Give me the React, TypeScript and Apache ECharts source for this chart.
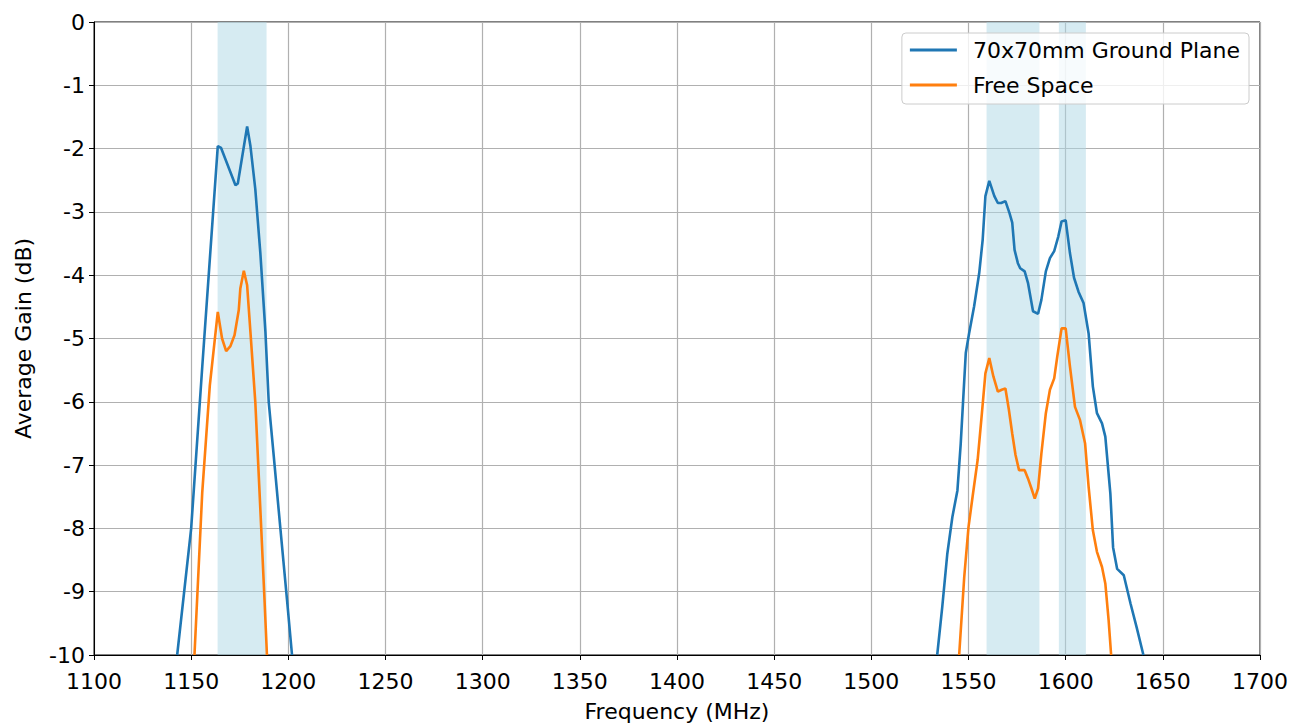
import React, { useEffect, useRef } from "react";
import * as echarts from "echarts";

// Left band (L5/E5a) and right band (L1/E1/B1/G1) samples
const groundFreqLow = [1142.8, 1150, 1155.7, 1163.7, 1165.4, 1172.8, 1174, 1178.8, 1180.5, 1183, 1185.6, 1188.2, 1189.9, 1192.5, 1195.9, 1199.3, 1201.9];
const groundGainLow = [-10, -8, -5.45, -1.96, -1.99, -2.58, -2.55, -1.65, -1.96, -2.64, -3.65, -4.89, -6.0, -6.86, -8.0, -9.12, -10];
const groundFreqHigh = [1533.9, 1536.5, 1539.1, 1541.7, 1544.3, 1546, 1548.6, 1550.3, 1552.9, 1555.5, 1557.3, 1558.7, 1560.7, 1563.3, 1565.1, 1566.8, 1569, 1571.1, 1572.5, 1573.7, 1575.4, 1576.6, 1578.9, 1580.6, 1583.2, 1585.8, 1587.5, 1589.8, 1591.9, 1594.1, 1596.2, 1597.9, 1600, 1602.2, 1604.3, 1606.6, 1609.2, 1611.8, 1614, 1616.1, 1618.7, 1620.4, 1623, 1624.4, 1626.5, 1629.9, 1633.4, 1636.5, 1640];
const groundGainHigh = [-10, -9.24, -8.4, -7.82, -7.4, -6.66, -5.23, -4.92, -4.49, -3.97, -3.44, -2.75, -2.51, -2.75, -2.86, -2.86, -2.83, -3.02, -3.17, -3.6, -3.81, -3.89, -3.94, -4.12, -4.57, -4.61, -4.39, -3.94, -3.73, -3.62, -3.39, -3.15, -3.13, -3.65, -4.04, -4.26, -4.44, -4.92, -5.76, -6.18, -6.34, -6.55, -7.45, -8.3, -8.64, -8.74, -9.19, -9.56, -10];

const freeFreqLow = [1151.7, 1155.7, 1159.6, 1163.7, 1165.9, 1168, 1170.2, 1172.3, 1174.5, 1175.3, 1177.1, 1178.8, 1180.5, 1183, 1185.6, 1187.7, 1189];
const freeGainLow = [-10, -7.43, -5.74, -4.58, -5.0, -5.2, -5.12, -4.95, -4.55, -4.21, -3.93, -4.16, -4.9, -6.0, -7.7, -9.1, -10];
const freeFreqHigh = [1545.2, 1547.8, 1550, 1552.1, 1554.7, 1556.9, 1558.7, 1560.7, 1562.8, 1565.1, 1567.1, 1569, 1570.8, 1572.5, 1574.2, 1576, 1578.9, 1580.6, 1582.4, 1584.1, 1585.8, 1587.5, 1589.8, 1591.9, 1594.1, 1595.7, 1597.9, 1600, 1602.2, 1604.8, 1607.4, 1610, 1611.8, 1614, 1616.1, 1618.7, 1620.4, 1622.1, 1623.4];
const freeGainHigh = [-10, -8.77, -7.98, -7.5, -6.92, -6.18, -5.55, -5.31, -5.6, -5.84, -5.81, -5.79, -6.13, -6.5, -6.84, -7.08, -7.08, -7.21, -7.37, -7.53, -7.37, -6.82, -6.18, -5.81, -5.63, -5.28, -4.84, -4.84, -5.44, -6.08, -6.29, -6.66, -7.34, -8.03, -8.37, -8.61, -8.87, -9.45, -10];

const bandStart = [1163.6, 1559.3, 1596.5];
const bandEnd = [1188.8, 1586.5, 1610.4];

const seriesNames = ["70x70mm Ground Plane", "Free Space"];

const FONT = "DejaVu Sans";
const FS = 22;

export default function App() {
  const ref = useRef<HTMLDivElement>(null);
  useEffect(() => {
    document.body.style.margin = "0";
    const chart = echarts.init(ref.current!, null, { renderer: "svg" });
    const pairs = (xs: number[], ys: number[]) => xs.map((x, i) => [x, ys[i]]);
    const joined = (xa: number[], ya: number[], xb: number[], yb: number[]) =>
      [...pairs(xa, ya), [(xa[xa.length - 1] + xb[0]) / 2, null], ...pairs(xb, yb)];
    chart.setOption({
      animation: false,
      textStyle: { fontFamily: FONT },
      grid: {
        left: 94, right: 42, top: 22, bottom: 69,
        containLabel: false, outerBoundsMode: "none",
        show: true, borderColor: "#000", borderWidth: 1, backgroundColor: "transparent",
      },
      legend: {
        orient: "vertical",
        right: 53,
        top: 33,
        data: seriesNames,
        icon: "rect",
        itemWidth: 47,
        itemHeight: 3,
        itemGap: 11,
        padding: [5, 9, 7, 8],
        backgroundColor: "rgba(255,255,255,0.8)",
        borderColor: "#cccccc",
        borderWidth: 1,
        borderRadius: 4,
        textStyle: { fontFamily: FONT, fontSize: FS, lineHeight: 24, color: "#000", padding: [0, 0, 0, 11] },
      },
      xAxis: {
        type: "value",
        min: 1100,
        max: 1700,
        interval: 50,
        name: "Frequency (MHz)",
        nameLocation: "middle",
        nameGap: 45,
        nameTextStyle: { fontFamily: FONT, fontSize: FS, color: "#000" },
        axisLine: { show: true, onZero: false, lineStyle: { color: "#000", width: 1 } },
        axisTick: { show: true, length: 5, lineStyle: { color: "#000" } },
        axisLabel: { fontFamily: FONT, fontSize: FS, color: "#000", margin: 15, formatter: (v: number) => String(v) },
        splitLine: { show: true, lineStyle: { color: "#b0b0b0", width: 1.2 } },
      },
      yAxis: {
        type: "value",
        min: -10,
        max: 0,
        interval: 1,
        name: "Average Gain (dB)",
        nameLocation: "middle",
        nameGap: 60,
        nameTextStyle: { fontFamily: FONT, fontSize: FS, color: "#000" },
        axisLine: { show: true, onZero: false, lineStyle: { color: "#000", width: 1 } },
        axisTick: { show: true, length: 5, lineStyle: { color: "#000" } },
        axisLabel: { fontFamily: FONT, fontSize: FS, color: "#000", margin: 9, formatter: (v: number) => String(v) },
        splitLine: { show: true, lineStyle: { color: "#b0b0b0", width: 1.2 } },
      },
      series: [
        {
          name: seriesNames[0],
          type: "line",
          data: joined(groundFreqLow, groundGainLow, groundFreqHigh, groundGainHigh),
          showSymbol: false,
          symbol: "none",
          connectNulls: false,
          clip: true,
          lineStyle: { color: "#1f77b4", width: 2.6 },
          itemStyle: { color: "#1f77b4" },
          z: 3,
          markArea: {
            silent: true,
            itemStyle: { color: "rgba(173,216,230,0.5)" },
            data: bandStart.map((s, i) => [{ xAxis: s }, { xAxis: bandEnd[i] }]),
          },
        },
        {
          name: seriesNames[1],
          type: "line",
          data: joined(freeFreqLow, freeGainLow, freeFreqHigh, freeGainHigh),
          showSymbol: false,
          symbol: "none",
          connectNulls: false,
          clip: true,
          lineStyle: { color: "#ff7f0e", width: 2.6 },
          itemStyle: { color: "#ff7f0e" },
          z: 3,
        },
      ],
    });
    return () => chart.dispose();
  }, []);
  return <div ref={ref} style={{ width: 1302, height: 724 }} />;
}
